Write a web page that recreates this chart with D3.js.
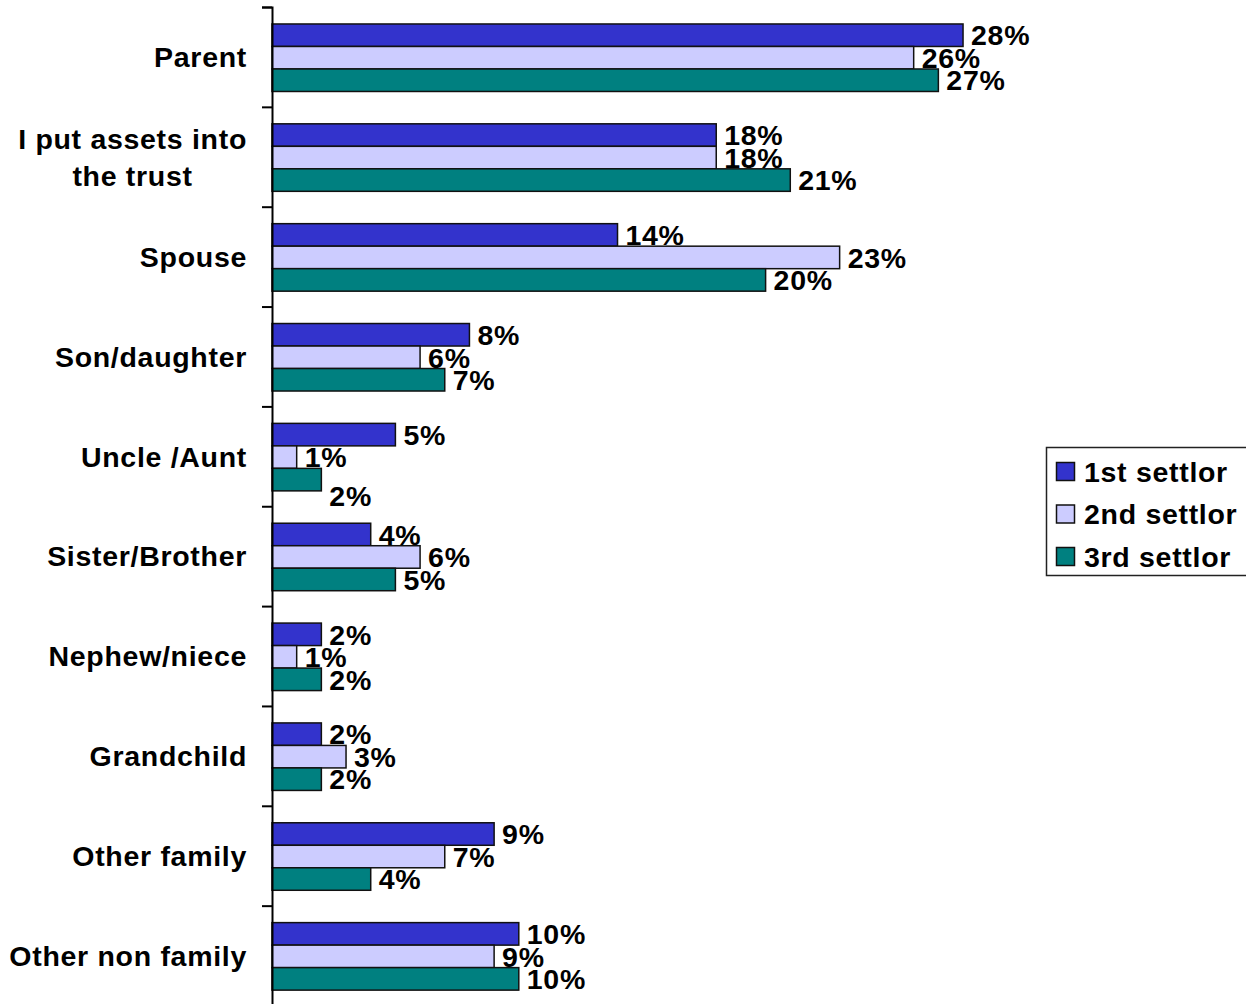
<!DOCTYPE html>
<html>
<head>
<meta charset="utf-8">
<script src="https://cdn.jsdelivr.net/npm/d3@7"></script>
<style>
  html, body { margin: 0; padding: 0; background: #fff; }
  svg { display: block; }
  text { font-family: "Liberation Sans", Arial, sans-serif; font-weight: bold; fill: #000; }
</style>
</head>
<body>
<svg id="chart" width="1246" height="1004"></svg>
<script>
// Who placed assets into the trust, by settlor order
const categories = [
  "Parent",
  "I put assets into\nthe trust",
  "Spouse",
  "Son/daughter",
  "Uncle /Aunt",
  "Sister/Brother",
  "Nephew/niece",
  "Grandchild",
  "Other family",
  "Other non family"
];
const seriesNames = ["1st settlor", "2nd settlor", "3rd settlor"];
const firstSettlor  = [28, 18, 14, 8, 5, 4, 2, 2, 9, 10];
const secondSettlor = [26, 18, 23, 6, 1, 6, 1, 3, 7, 9];
const thirdSettlor  = [27, 21, 20, 7, 2, 5, 2, 2, 4, 10];
const seriesValues = [firstSettlor, secondSettlor, thirdSettlor];
const seriesColors = ["#3333CC", "#CCCCFF", "#008080"];

const svg = d3.select("#chart");
const FONT = 28.5;
const SPACING = "0.7px";

const axisX = 272;
const x = d3.scaleLinear().domain([0, 30]).range([axisX, axisX + 740.4]);
const y0 = d3.scaleBand().domain(categories).range([7, 1005.5]).padding(0);
const bw = y0.bandwidth();
const y1 = d3.scaleBand().domain(seriesNames).range([0.17 * bw, 0.846 * bw]).padding(0);

// rows of the table: one per category/series pair
const rows = [];
categories.forEach((c, i) => {
  seriesNames.forEach((s, j) => {
    rows.push({ cat: c, series: s, value: seriesValues[j][i], color: seriesColors[j] });
  });
});

// bars
svg.append("g")
  .selectAll("rect")
  .data(rows)
  .join("rect")
  .attr("x", x(0))
  .attr("y", d => y0(d.cat) + y1(d.series))
  .attr("width", d => x(d.value) - x(0))
  .attr("height", y1.bandwidth())
  .attr("fill", d => d.color)
  .attr("stroke", "#111")
  .attr("stroke-width", 1.5);

// value labels; the Uncle /Aunt 3rd-settlor label sits below its bar
const labelNudge = { "Uncle /Aunt|3rd settlor": 16 };
svg.append("g")
  .selectAll("text")
  .data(rows)
  .join("text")
  .attr("x", d => x(d.value) + 8)
  .attr("y", d => y0(d.cat) + y1(d.series) + y1.bandwidth() / 2 + FONT * 0.36 + (labelNudge[d.cat + "|" + d.series] || 0))
  .attr("font-size", FONT)
  .attr("letter-spacing", SPACING)
  .text(d => d.value + "%");

// category axis: ticks at band boundaries
const yBound = d3.scaleLinear().domain([0, categories.length]).range(y0.range());
svg.append("g")
  .attr("transform", `translate(${axisX},0)`)
  .call(d3.axisLeft(yBound).ticks(categories.length).tickSize(10).tickSizeOuter(10).tickFormat(""))
  .call(g => g.selectAll("path,line").attr("stroke", "#000").attr("stroke-width", 2));

// category labels
const catG = svg.append("g");
categories.forEach(c => {
  const lines = c.split("\n");
  const cy = y0(c) + bw / 2;
  const lh = 37;
  const t = catG.append("text")
    .attr("font-size", FONT)
    .attr("letter-spacing", SPACING)
    .attr("text-anchor", lines.length > 1 ? "middle" : "end");
  if (lines.length > 1) {
    // centre multi-line labels under the widest line, right-aligned to the axis
    const probe = catG.append("text").attr("font-size", FONT).attr("letter-spacing", SPACING).text(lines[0]);
    const w = d3.max(lines, l => { probe.text(l); return probe.node().getComputedTextLength(); });
    probe.remove();
    const cx = 247 - w / 2;
    lines.forEach((l, k) => {
      t.append("tspan")
        .attr("x", cx)
        .attr("y", cy + FONT * 0.36 + (k - (lines.length - 1) / 2) * lh)
        .text(l);
    });
  } else {
    t.attr("x", 247).attr("y", cy + FONT * 0.36).text(c);
  }
});

// legend
const legend = svg.append("g").attr("transform", "translate(1046,447)");
legend.append("rect")
  .attr("x", 0.5).attr("y", 0.5)
  .attr("width", 220).attr("height", 128)
  .attr("fill", "#fff").attr("stroke", "#222").attr("stroke-width", 1.5);
const ly = d3.scalePoint().domain(seriesNames).range([24.5, 109.5]);
seriesNames.forEach((s, j) => {
  legend.append("rect")
    .attr("x", 10.5).attr("y", ly(s) - 9)
    .attr("width", 18).attr("height", 18)
    .attr("fill", seriesColors[j]).attr("stroke", "#111").attr("stroke-width", 1.5);
  legend.append("text")
    .attr("x", 38).attr("y", ly(s) + FONT * 0.36)
    .attr("font-size", FONT)
    .attr("letter-spacing", SPACING)
    .text(s);
});
</script>
</body>
</html>
